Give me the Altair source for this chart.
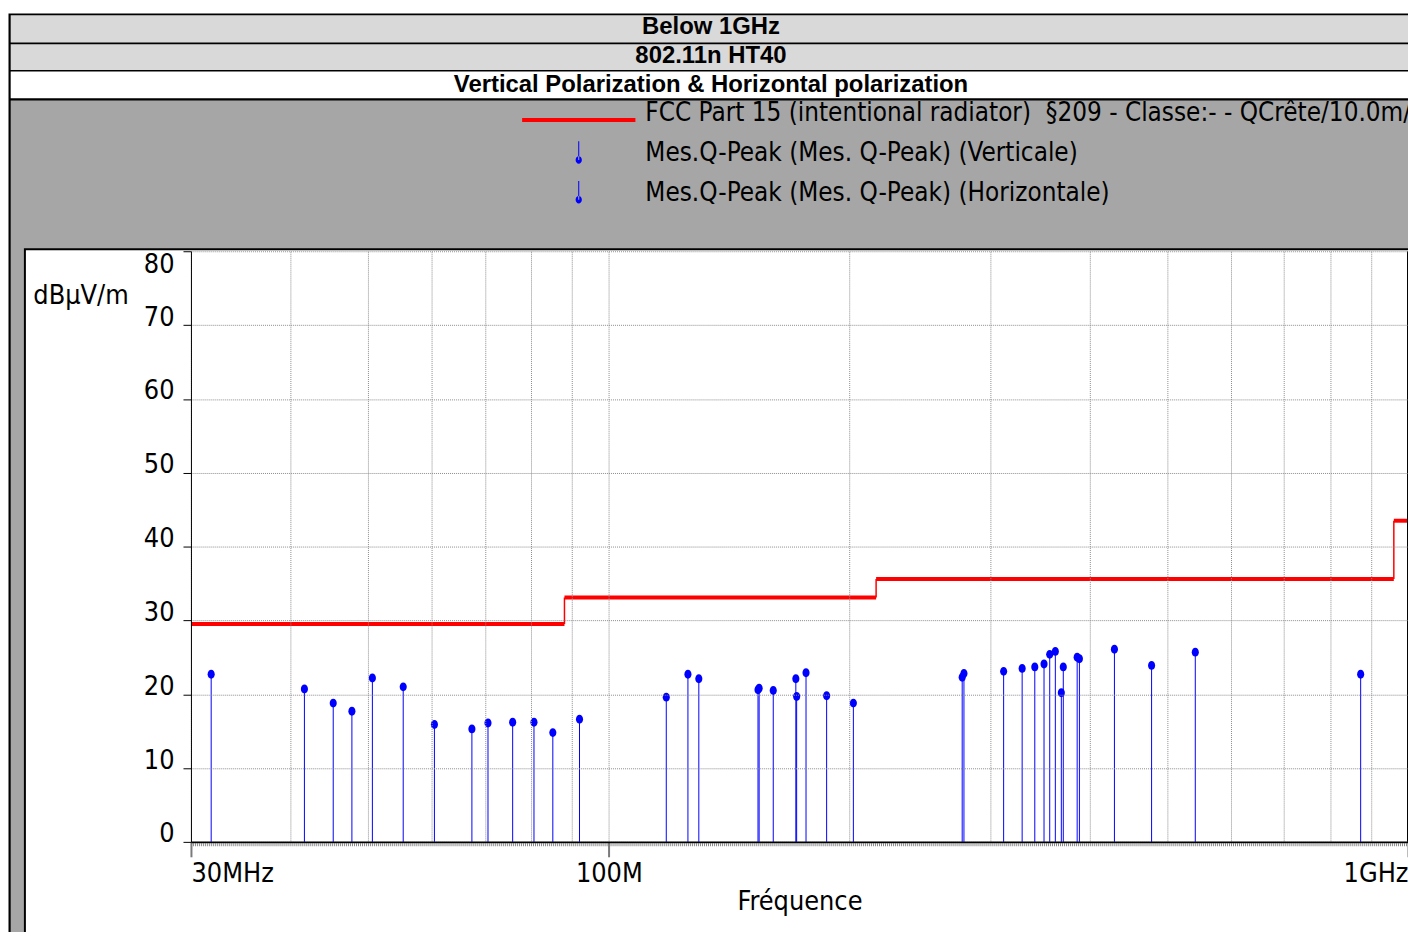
import altair as alt
import pandas as pd

# ---------------- data ----------------
header_lines = ["Below 1GHz", "802.11n HT40",
                "Vertical Polarization & Horizontal polarization"]
series_names = [
    "FCC Part 15 (intentional radiator)\u00a0 §209 - Classe:- - QCrête/10.0m/",
    "Mes.Q-Peak (Mes. Q-Peak) (Verticale)",
    "Mes.Q-Peak (Mes. Q-Peak) (Horizontale)",
]
limit_start = [30, 88, 216, 960]
limit_end = [88, 216, 960, 1000]
limit_level = [29.5, 33.1, 35.6, 43.5]

freq_vert = [31.8, 45.2, 50.6, 60.5, 70.6, 80.6, 91.9, 125.6, 153.7, 160.6,
             171.8, 187.3, 276.8, 311.9, 341.2, 356.2, 368.3, 385.5, 429.2, 541.8]
level_vert = [22.7, 18.8, 22.2, 15.9, 16.1, 16.2, 16.6, 22.7, 20.6, 20.5,
              19.7, 19.8, 22.3, 23.1, 23.7, 25.4, 20.2, 25.0, 26.1, 25.7]
freq_horiz = [41.6, 47.7, 55.3, 67.4, 75.8, 85.1, 118.0, 129.6, 154.2, 171.4,
              176.5, 202.3, 278.2, 329.0, 350.4, 362.0, 370.4, 388.0, 477.7, 872.5]
level_horiz = [20.7, 17.7, 21.0, 15.3, 16.2, 14.8, 19.6, 22.1, 20.8, 22.1,
               22.9, 18.8, 22.8, 23.5, 24.1, 25.8, 23.7, 24.8, 23.9, 22.7]

x_grid = [30, 40, 50, 60, 70, 80, 90, 100, 200, 300, 400, 500, 600, 700, 800, 900, 1000]
x_label_values = [30, 100, 1000]
x_label_texts = ["30MHz", "100M", "1GHz"]
y_ticks = [0, 10, 20, 30, 40, 50, 60, 70, 80]

# ---------------- styles ----------------
FONT = "DejaVu Sans Condensed, Liberation Sans Narrow, sans-serif"
HFONT = "Liberation Sans, Arial, sans-serif"
FS = 27
LFS = 26
BLUE = "#0000ff"
RED = "#ff0000"
W, H = 1224, 594

label_expr = " : ".join(
    f"datum.value == {v} ? '{t}'" for v, t in zip(x_label_values, x_label_texts)
) + " : ''"
major_test = " || ".join(f"datum.value == {v}" for v in x_label_values)

xscale = alt.Scale(type="log", domain=[30, 1000], nice=False)
yscale = alt.Scale(domain=[0, 80], nice=False, zero=True)

xaxis = alt.Axis(
    values=x_grid, labelExpr=label_expr, title="Fréquence",
    grid=True, gridColor="#8c8c8c", gridDash=[1, 1], gridWidth=1,
    domainColor="black", domainWidth=2,
    tickColor="#7a7a7a", tickWidth=2, tickSize=15,
    tickOpacity={"condition": {"test": major_test, "value": 1}, "value": 0},
    labelFont=FONT, labelFontSize=FS, labelColor="black",
    labelBaseline="alphabetic", labelPadding=25, labelFlush=True,
    labelOverlap=False,
    titleFont=FONT, titleFontSize=FS, titleFontWeight="normal", titleColor="black",
    titleBaseline="alphabetic", titleY=68, zindex=1,
)
yaxis = alt.Axis(
    values=y_ticks, title="dBμV/m", titleAngle=0, titleX=-159, titleY=53,
    titleAlign="left", titleBaseline="alphabetic",
    titleFont=FONT, titleFontSize=FS, titleFontWeight="normal", titleColor="black",
    grid=True, gridColor="#8c8c8c", gridDash=[1, 1], gridWidth=1,
    domainColor="black", domainWidth=1, tickColor="black", tickSize=8, tickWidth=1,
    labelFont=FONT, labelFontSize=FS, labelColor="black", labelPadding=9,
    labelFlush=False, labelOverlap=False,
    labelBaseline={"condition": {"test": "datum.value == 80", "value": "top"},
                   "value": "alphabetic"},
    zindex=1,
)


def X(field):
    return alt.X(field, scale=xscale, axis=xaxis)


def Y(field):
    return alt.Y(field, scale=yscale, axis=yaxis)


one = pd.DataFrame({"k": [0]})


def box(x1, x2, y1, y2, color):
    return alt.Chart(one).mark_rect(color=color, strokeWidth=0).encode(
        x=alt.value(x1), x2=alt.value(x2), y=alt.value(y1), y2=alt.value(y2))


# ---------------- decorations (frame, header rows) ----------------
deco = [
    box(-183.5, 1230, -239, 700, "black"),
    box(-181.3, 1230, -237.3, -210, "#d9d9d9"),
    box(-181.3, 1230, -208.3, -182.3, "#d9d9d9"),
    box(-181.3, 1230, -180.7, -154, "white"),
    box(-181.3, 1230, -151.7, 700, "#a6a6a6"),
    box(-168, 1230, -3, 700, "black"),
    box(-166, 1230, -1, 700, "white"),
]
header_y = [-225.5, -196.5, -167.5]
headers = [
    alt.Chart(one).mark_text(text=t, font=HFONT, fontSize=24, fontWeight="bold",
                             color="black", align="center", baseline="middle").encode(
        x=alt.value(523), y=alt.value(yy))
    for t, yy in zip(header_lines, header_y)
]
minor_band = alt.Chart(one).mark_rule(color="#8a8a8a", strokeDash=[1, 1], strokeWidth=3).encode(
    x=alt.value(0), x2=alt.value(W), y=alt.value(H + 3))
right_edge = alt.Chart(one).mark_rule(color="black", strokeWidth=1).encode(
    x=alt.value(W - 0.5), y=alt.value(0), y2=alt.value(H))

# ---------------- data layers ----------------
meas = pd.DataFrame({
    "freq": freq_vert + freq_horiz,
    "level": level_vert + level_horiz,
    "pol": [series_names[1]] * len(freq_vert) + [series_names[2]] * len(freq_horiz),
})
limit_h = pd.DataFrame({"freq": limit_start, "end": limit_end, "level": limit_level})
limit_v = pd.DataFrame({"freq": limit_start[1:], "level": limit_level[:-1],
                        "level2": limit_level[1:]})

limit_h_layer = alt.Chart(limit_h).mark_rule(color=RED, strokeWidth=4).encode(
    x=X("freq:Q"), x2="end:Q", y=Y("level:Q"))
limit_v_layer = alt.Chart(limit_v).mark_rule(color=RED, strokeWidth=1.5).encode(
    x=X("freq:Q"), y=Y("level:Q"), y2="level2:Q")

stems = alt.Chart(meas).mark_rule(color=BLUE, strokeWidth=1).encode(
    x=X("freq:Q"), y=Y("level:Q"), y2=alt.datum(0))
ELLIPSE = "M0,-1A0.8,1 0 1,0 0,1A0.8,1 0 1,0 0,-1Z"
dots = alt.Chart(meas).mark_point(shape=ELLIPSE, filled=True, size=80, color=BLUE,
                                   opacity=1, strokeWidth=0).encode(
    x=X("freq:Q"), y=Y("level:Q"))

# ---------------- legend (real legend from a color/shape scale) ----------------
PATH_LINE = "M-1,0.088H1V0.158H-1Z"
PATH_STEM = ("M-0.009,-0.204H0.009V0.126H-0.009Z "
             "M-0.055,0.126A0.055,0.065 0 1,0 0.055,0.126A0.055,0.065 0 1,0 -0.055,0.126Z")
leg = alt.Legend(title=None, orient="none", legendX=333, legendY=-158.75,
                 symbolSize=12996, symbolStrokeWidth=0, symbolOffset=0,
                 labelFont=FONT, labelFontSize=LFS, labelColor="black",
                 labelLimit=3000, labelOffset=10, clipHeight=39.5,
                 rowPadding=0, padding=0)
legend_layer = alt.Chart(pd.DataFrame({"series": series_names})).mark_point(
    filled=True, opacity=1, strokeWidth=0).encode(
    color=alt.Color("series:N", legend=leg,
                    scale=alt.Scale(domain=series_names, range=[RED, BLUE, BLUE])),
    shape=alt.Shape("series:N", legend=leg,
                    scale=alt.Scale(domain=series_names,
                                    range=[PATH_LINE, PATH_STEM, PATH_STEM])),
).transform_filter("false")

chart = alt.layer(
    *deco, *headers, minor_band,
    limit_h_layer, limit_v_layer, stems, dots, right_edge, legend_layer,
).properties(
    width=W, height=H,
    autosize=alt.AutoSizeParams(type="none"),
    padding={"left": 184, "top": 242, "right": 0, "bottom": 88},
).configure_view(stroke=None).configure(background="white")

chart.save("out.html", embed_options={"renderer": "svg", "actions": False})
